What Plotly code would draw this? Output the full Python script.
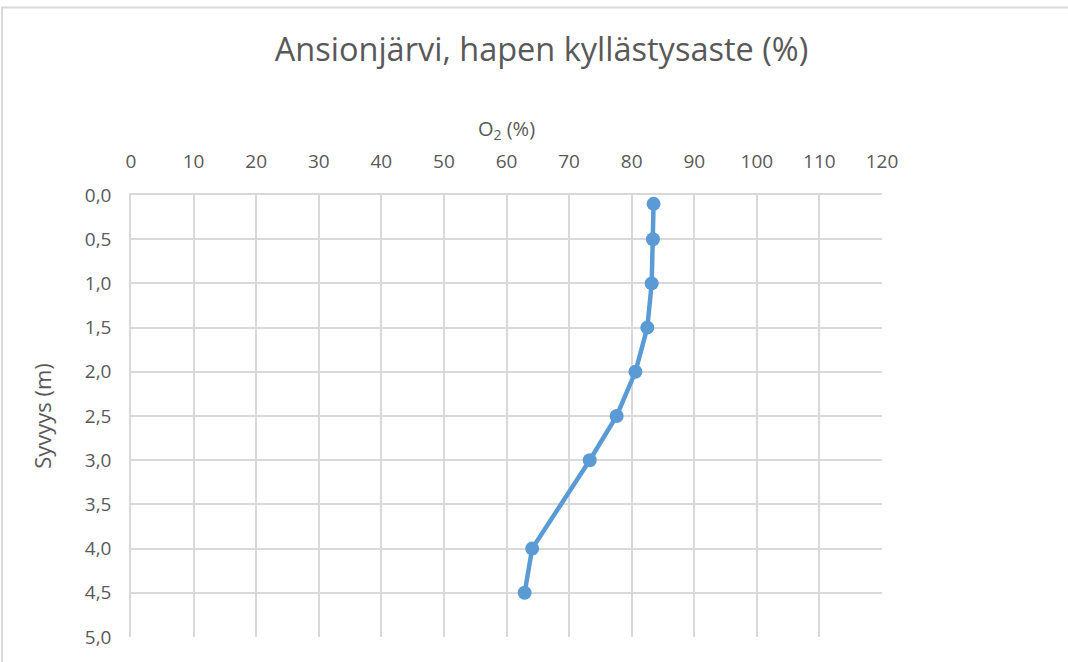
import plotly.graph_objects as go

depth_m = [0.1, 0.5, 1.0, 1.5, 2.0, 2.5, 3.0, 4.0, 4.5]
o2_pct = [83.5, 83.4, 83.2, 82.5, 80.6, 77.6, 73.3, 64.1, 62.9]

title_text = "Ansionjärvi, hapen kyllästysaste (%)"
x_title = "O<sub>2</sub> (%)"
y_title = "Syvyys (m)"

FONT = "Open Sans"
GREY = "#595959"
GRID = "#d9d9d9"

fig = go.Figure()
fig.add_trace(go.Scatter(
    x=o2_pct, y=depth_m, mode="lines+markers",
    line=dict(color="#5b9bd5", width=4.5),
    marker=dict(color="#5b9bd5", size=14),
    showlegend=False,
))

W, H = 1068, 662
L, T = 131, 195
R = W - 882
B = H - 637
pw, ph = W - L - R, H - T - B

fig.update_layout(
    width=W, height=H,
    margin=dict(l=L, r=R, t=T, b=B),
    paper_bgcolor="white", plot_bgcolor="white",
    separators=", ",
    font=dict(family=FONT, color=GREY, size=19),
    title=dict(text=title_text, x=541.5 / W, xref="container", xanchor="center",
               y=1 - 50 / H, yanchor="middle",
               font=dict(family=FONT, size=32.5, color=GREY)),
    xaxis=dict(side="top", range=[0, 120], dtick=10, tick0=0,
               showgrid=True, gridcolor=GRID, gridwidth=1.5,
               zeroline=False, showline=True, linecolor=GRID, linewidth=1.5,
               ticks="outside", ticklen=18, tickcolor="rgba(0,0,0,0)",
               tickfont=dict(size=19, color=GREY),
               title=dict(text=x_title, standoff=6, font=dict(size=20, color=GREY))),
    yaxis=dict(range=[5, 0], dtick=0.5, tick0=0, tickformat=".1f",
               showgrid=True, gridcolor=GRID, gridwidth=1.5,
               zeroline=False, showline=True, linecolor=GRID, linewidth=1.5,
               ticks="outside", ticklen=14, tickcolor="rgba(0,0,0,0)",
               tickfont=dict(size=19, color=GREY),
               title=dict(text=y_title, standoff=27, font=dict(size=22, color=GREY))),
)

# chart area border (Excel style), extends beyond the right/bottom edges
fig.add_shape(type="rect", xref="paper", yref="paper",
              x0=(2 - L) / pw, x1=(W + 20 - L) / pw,
              y0=-(B + 20) / ph, y1=(H - B - 7.5) / ph,
              line=dict(color=GRID, width=2), fillcolor="rgba(0,0,0,0)", layer="below")

fig.write_html("out.html", config={"displayModeBar": False},
               post_script="document.body.style.margin='0px';")
